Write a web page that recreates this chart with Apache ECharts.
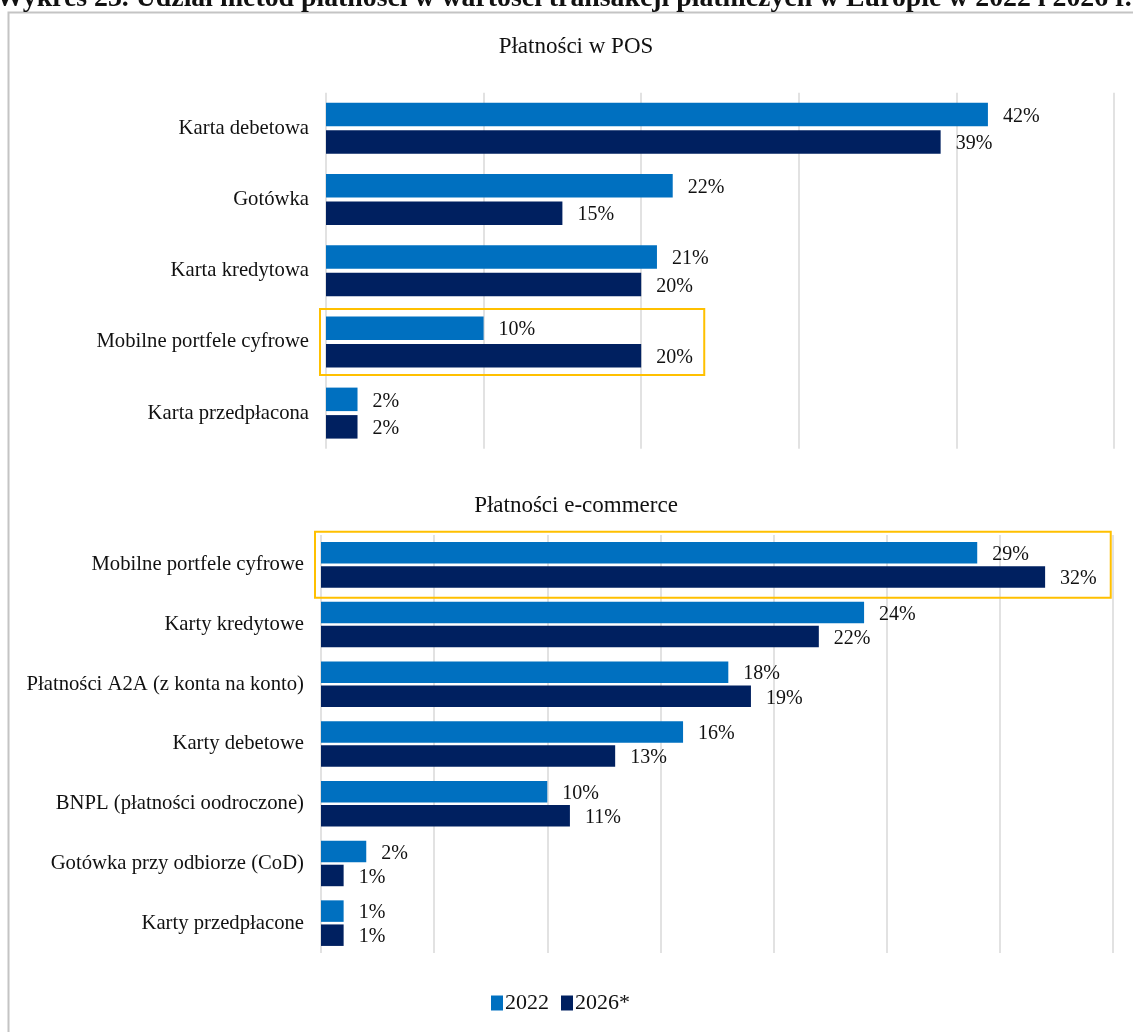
<!DOCTYPE html>
<html>
<head>
<meta charset="utf-8">
<script src="https://cdn.jsdelivr.net/npm/echarts@6/dist/echarts.min.js"></script>
<style>
  html, body { margin: 0; padding: 0; background: #fff; }
  #chart { width: 1133px; height: 1032px; }
</style>
</head>
<body>
<div id="chart"></div>
<script>
// Udział metod płatności — POS i e-commerce, 2022 vs 2026 (prognoza)
const posCategories = ['Karta debetowa', 'Gotówka', 'Karta kredytowa', 'Mobilne portfele cyfrowe', 'Karta przedpłacona'];
const pos2022 = [42, 22, 21, 10, 2];
const pos2026 = [39, 15, 20, 20, 2];

const ecomCategories = ['Mobilne portfele cyfrowe', 'Karty kredytowe', 'Płatności A2A (z konta na konto)', 'Karty debetowe', 'BNPL (płatności oodroczone)', 'Gotówka przy odbiorze (CoD)', 'Karty przedpłacone'];
const ecom2022 = [29, 24, 18, 16, 10, 2, 1];
const ecom2026 = [32, 22, 19, 13, 11, 1, 1];

const seriesNames = ['2022', '2026*'];
const pageTitle = 'Wykres 23. Udział metod płatności w wartości transakcji płatniczych w Europie w 2022 i 2026 r.';
const panelTitles = ['Płatności w POS', 'Płatności e-commerce'];

// highlighted rows: [grid index, category index, value the frame reaches]
const highlights = [[0, 3, 24], [1, 0, 34.9]];

const FONT = 'Liberation Serif';
const C2022 = '#0070C0';
const C2026 = '#002060';
const TEXT = '#111';

const chart = echarts.init(document.getElementById('chart'), null, { renderer: 'canvas' });

const valueAxis = (gridIndex, max, interval) => ({
  type: 'value', gridIndex, min: 0, max, interval,
  axisLabel: { show: false }, axisLine: { show: false }, axisTick: { show: false },
  splitLine: { show: true, lineStyle: { color: '#d9d9d9', width: 1.5 } }
});
const catAxis = (gridIndex, data) => ({
  type: 'category', gridIndex, data, inverse: true,
  axisLine: { show: false }, axisTick: { show: false },
  axisLabel: { color: TEXT, fontFamily: FONT, fontSize: 20.7, margin: 17 }
});
const label = {
  show: true, position: 'right', distance: 15, offset: [0, 2], formatter: '{c}%',
  color: TEXT, fontFamily: FONT, fontSize: 20
};
const bar = (name, data, idx, color, width, gap) => ({
  name, type: 'bar', data, xAxisIndex: idx, yAxisIndex: idx,
  barWidth: width, barGap: gap, itemStyle: { color }, label, silent: true
});

chart.setOption({
  animation: false,
  backgroundColor: '#fff',
  legend: {
    data: seriesNames, bottom: 13, left: 486,
    itemWidth: 12, itemHeight: 15, itemGap: 12, icon: 'rect',
    textStyle: { fontFamily: FONT, fontSize: 22, color: TEXT, padding: [0, 0, 0, -3] }
  },
  grid: [
    { left: 326, width: 788, top: 92.7, height: 356 },
    { left: 321, width: 792, top: 535, height: 418 }
  ],
  xAxis: [valueAxis(0, 50, 10), valueAxis(1, 35, 5)],
  yAxis: [catAxis(0, posCategories), catAxis(1, ecomCategories)],
  series: [
    bar(seriesNames[0], pos2022, 0, C2022, 23.5, '17%'),
    bar(seriesNames[1], pos2026, 0, C2026, 23.5, '17%'),
    bar(seriesNames[0], ecom2022, 1, C2022, 21.5, '12%'),
    bar(seriesNames[1], ecom2026, 1, C2026, 21.5, '12%')
  ]
});

// frames around highlighted rows, positioned through the axes
const frames = highlights.map(([g, cat, reach]) => {
  const center = chart.convertToPixel({ yAxisIndex: g }, cat);
  const x0 = chart.convertToPixel({ xAxisIndex: g }, 0) - 6;
  const x1 = chart.convertToPixel({ xAxisIndex: g }, reach);
  return {
    type: 'rect', silent: true, z: 10,
    shape: { x: x0, y: center - 33, width: x1 - x0, height: 66 },
    style: { fill: 'none', stroke: '#FFC000', lineWidth: 2 }
  };
});

const panelTitle = (text, y) => ({
  type: 'text', silent: true, z: 10, x: 576, y,
  style: { text, fontFamily: FONT, fontSize: 23, fill: TEXT, align: 'center', verticalAlign: 'middle' }
});

chart.setOption({
  graphic: [
    { type: 'rect', silent: true, z: 0,
      shape: { x: 8.5, y: 12.5, width: 1300, height: 1200 },
      style: { fill: 'none', stroke: '#c4c4c4', lineWidth: 2 } },
    { type: 'text', silent: true, z: 10, x: -4, y: -15.5,
      style: { text: pageTitle, fontFamily: FONT, fontSize: 27.8, fontWeight: 'bold', fill: TEXT } },
    panelTitle(panelTitles[0], 47),
    panelTitle(panelTitles[1], 506),
    ...frames
  ]
});
</script>
</body>
</html>
